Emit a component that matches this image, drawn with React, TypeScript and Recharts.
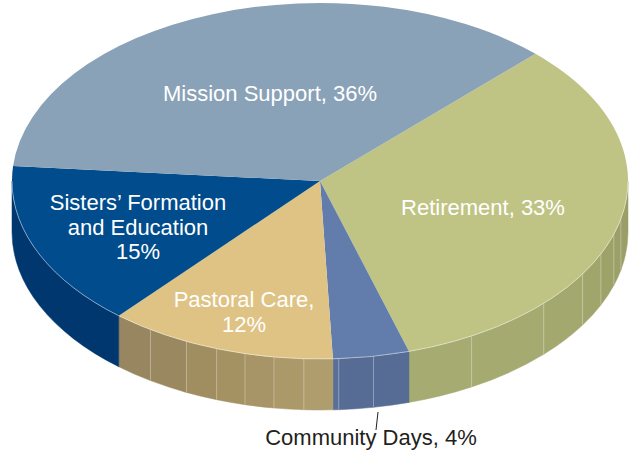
import { Pie, PieChart } from 'recharts';

const categories = ['Retirement', 'Community Days', 'Pastoral Care', "Sisters' Formation and Education", 'Mission Support'];
const shares = [33, 4, 12, 15, 36];
const topColors = ['#bfc484', '#627dab', '#dec384', '#004c8c', '#8aa2b8'];

// side wall facets, listed right to left
const wallColors = [
  ['#9a9f67', '#9b9f68', '#9da269', '#a0a56c', '#a3a86e', '#a5aa70', '#a6ab71'],
  ['#566c95', '#566c95', '#5a7099'],
  ['#b09d6e', '#ac996a', '#a89567', '#a49263', '#a08d60', '#9a8960', '#978660'],
  ['#00376f'],
  ['#6f8aa0'],
];
const wallBreaks = [
  [-12.3, -17.4, -24.2, -31.5, -43.4, -60.5],
  [-80, -86.5],
  [-93, -98.6, -104.1, -109.6, -115.7, -123.4],
  [],
  [],
];

const labelLines = [
  ['Retirement, 33%'],
  ['Community Days, 4%'],
  ['Pastoral Care,', '12%'],
  ['Sisters\u2019 Formation', 'and Education', '15%'],
  ['Mission Support, 36%'],
];
const labelAnchors = [
  [483, 215],
  [371, 445],
  [244, 307],
  [138, 210],
  [270, 101],
];

const TILT = 0.578;
const DEPTH = 51;
const START = 45.6;

const pieData = categories.map((name, i) => ({ name, value: shares[i], fill: topColors[i] }));

const point = (p: any, angle: number, dy = 0) => {
  const a = (angle * Math.PI) / 180;
  return [p.cx + p.outerRadius * Math.cos(a), p.cy - p.outerRadius * TILT * Math.sin(a) + dy];
};

const arcTo = (p: any, q: number[], sweep: number) =>
  `A ${p.outerRadius} ${p.outerRadius * TILT} 0 0 ${sweep} ${q[0]} ${q[1]}`;

const TopSlice = (p: any) => {
  const a = point(p, p.startAngle);
  const b = point(p, p.endAngle);
  const d = `M ${p.cx} ${p.cy} L ${a[0]} ${a[1]} ${arcTo(p, b, 1)} Z`;
  const from = Math.min(p.startAngle, 0);
  const to = Math.max(p.endAngle, -180);
  const c = point(p, from);
  const e = point(p, to);
  return (
    <g>
      <path d={d} fill={p.fill} />
      {from > to && (
        <path d={`M ${c[0]} ${c[1]} ${arcTo(p, e, 1)}`} fill="none" stroke="#fff" strokeOpacity={0.45} strokeWidth={1} />
      )}
    </g>
  );
};

const WallSlice = (p: any) => {
  const from = Math.min(p.startAngle, 0);
  const to = Math.max(p.endAngle, -180);
  if (from <= to) return <g />;
  const breaks = wallBreaks[p.index];
  const stops = [from, ...breaks, to];
  const facets = stops.slice(0, -1).map((s, i) => {
    const a = point(p, s);
    const b = point(p, stops[i + 1]);
    const c = point(p, stops[i + 1], DEPTH);
    const e = point(p, s, DEPTH);
    const fill = wallColors[p.index][i];
    return (
      <path
        key={i}
        d={`M ${a[0]} ${a[1]} ${arcTo(p, b, 1)} L ${c[0]} ${c[1]} ${arcTo(p, e, 0)} Z`}
        fill={fill}
        stroke={fill}
        strokeWidth={0.5}
      />
    );
  });
  const seams = breaks.map((s: number) => {
    const a = point(p, s);
    return <line key={s} x1={a[0]} y1={a[1]} x2={a[0]} y2={a[1] + DEPTH} stroke="#fff" strokeOpacity={0.3} />;
  });
  return (
    <g>
      {facets}
      {seams}
    </g>
  );
};

const SliceLabel = ({ index }: any) => {
  const [x, y] = labelAnchors[index];
  const outside = index === 1;
  return (
    <g>
      {outside && <line x1={378} y1={412} x2={376} y2={430} stroke="#231f20" strokeWidth={1} />}
      <text
        x={x}
        y={y}
        textAnchor="middle"
        fontFamily="Liberation Sans"
        fontSize={22}
        fill={outside ? '#231f20' : '#ffffff'}
      >
        {labelLines[index].map((line, i) => (
          <tspan key={i} x={x} dy={i === 0 ? 0 : 24.5}>
            {line}
          </tspan>
        ))}
      </text>
    </g>
  );
};

const App = () => {
  return (
    <div style={{ position: 'absolute', left: 0, top: 0 }}>
      <PieChart width={634} height={450} margin={{ top: 0, right: 0, bottom: 0, left: 0 }}>
        <Pie
          data={pieData}
          dataKey="value"
          cx={320}
          cy={181}
          innerRadius={0}
          outerRadius={308}
          startAngle={START}
          endAngle={START - 360}
          stroke="none"
          shape={WallSlice}
          isAnimationActive={false}
        />
        <Pie
          data={pieData}
          dataKey="value"
          cx={320}
          cy={181}
          innerRadius={0}
          outerRadius={308}
          startAngle={START}
          endAngle={START - 360}
          stroke="none"
          shape={TopSlice}
          label={SliceLabel}
          labelLine={false}
          isAnimationActive={false}
        />
      </PieChart>
    </div>
  );
};

export default App;
